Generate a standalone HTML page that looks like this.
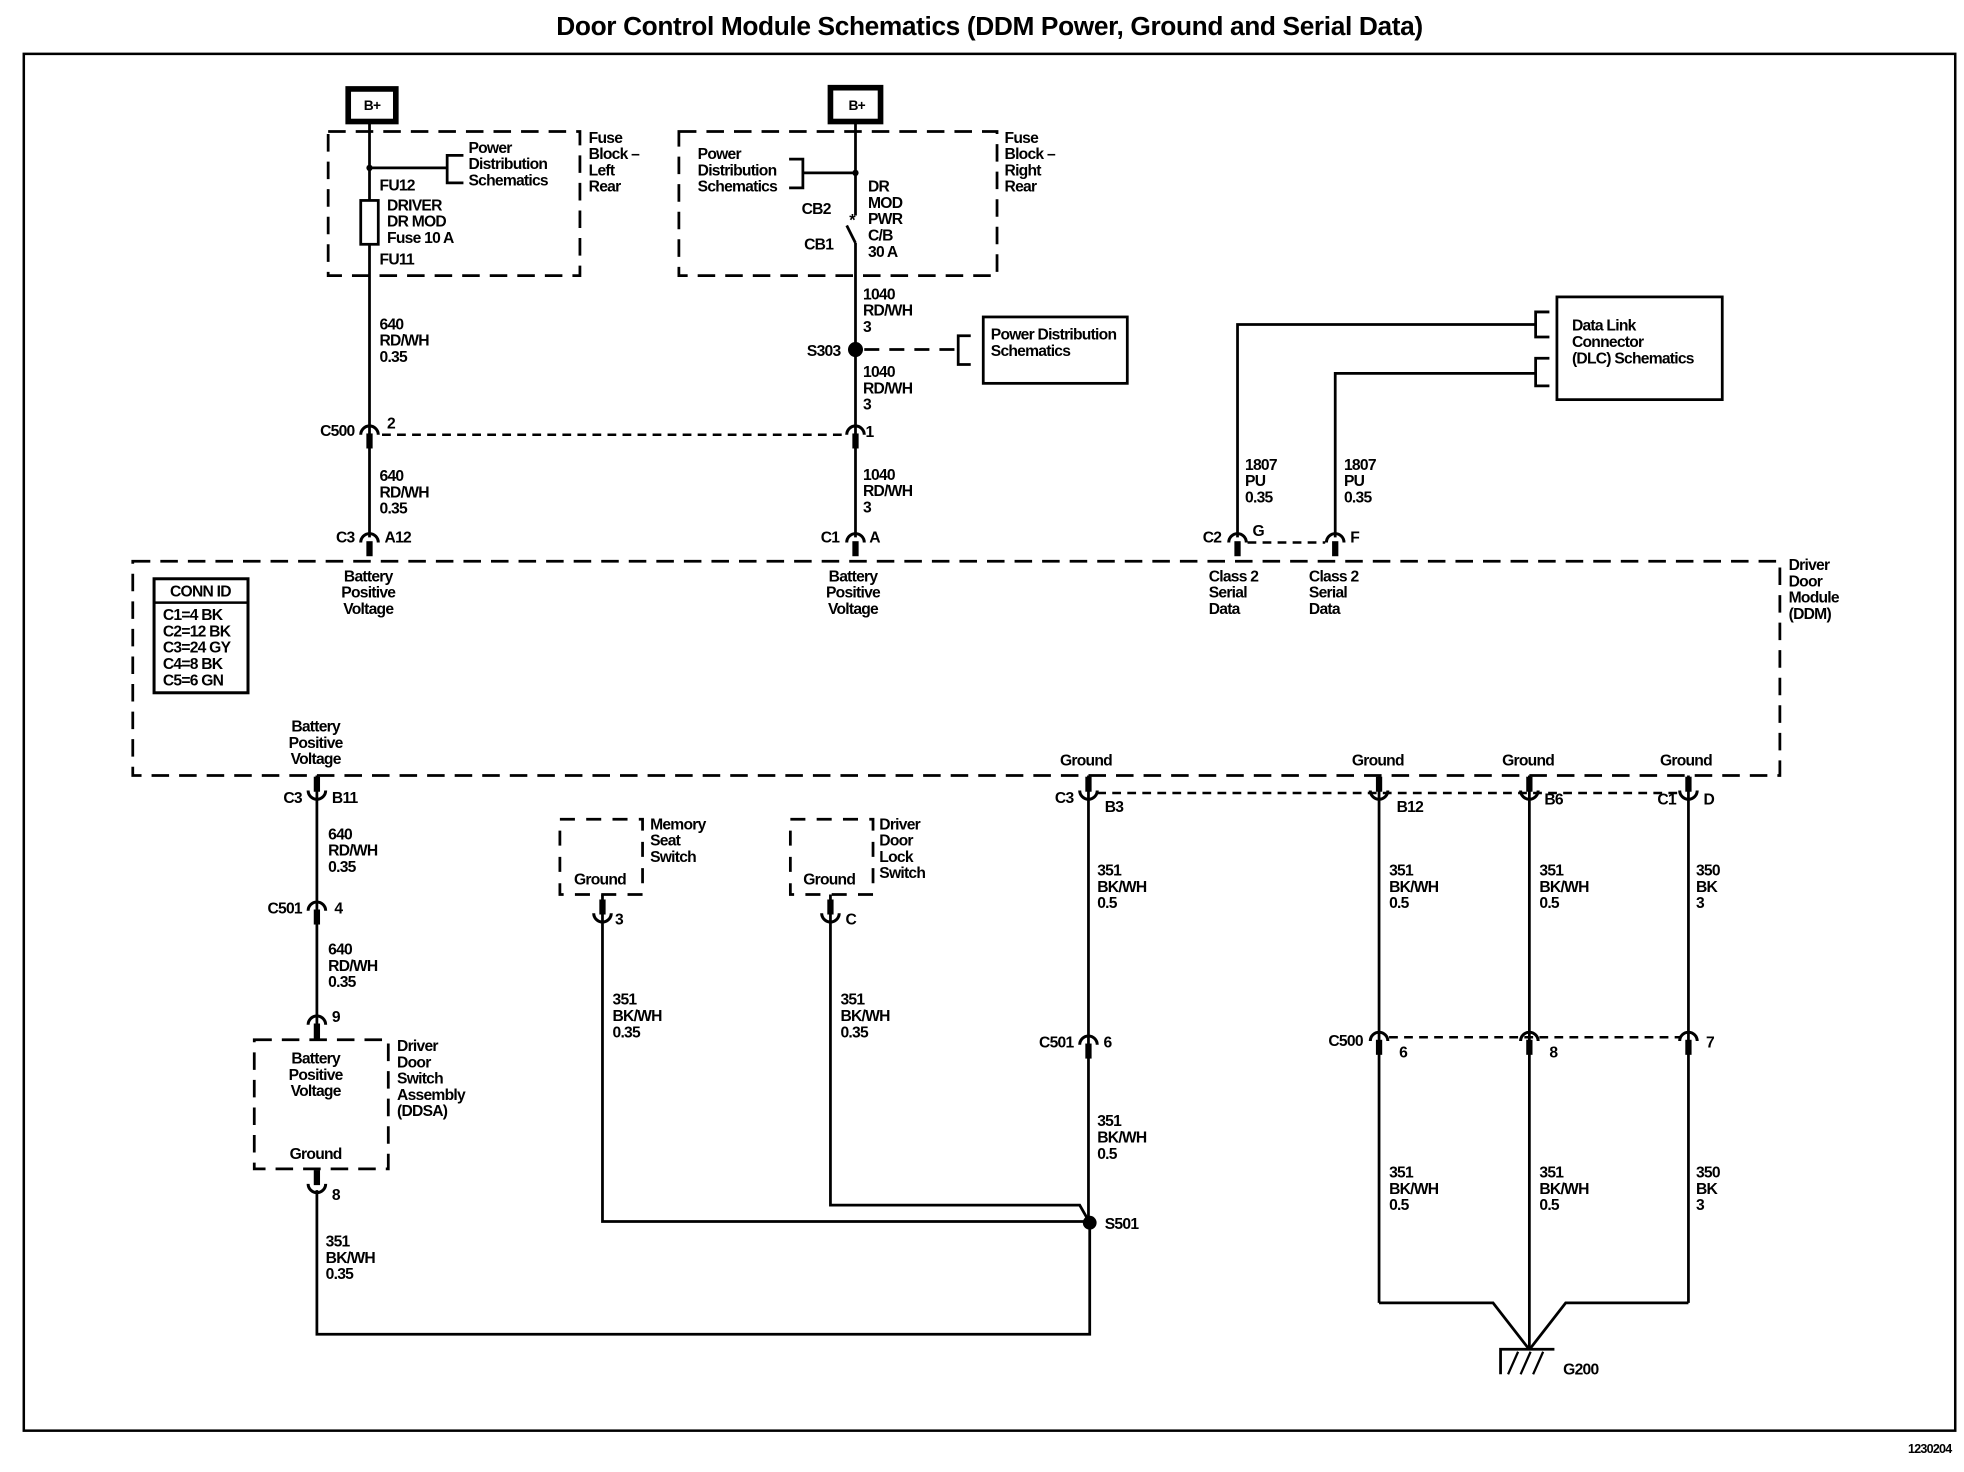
<!DOCTYPE html>
<html><head><meta charset="utf-8"><style>
html,body{margin:0;padding:0;background:#fff;}
svg{display:block}
text{font-family:"Liberation Sans",sans-serif;font-weight:bold;font-size:12.5px;fill:#000;letter-spacing:-0.6px}
.w{stroke:#000;stroke-width:2.2;fill:none}
.d{stroke:#000;stroke-width:2.2;fill:none;stroke-dasharray:14 8}
.ds{stroke:#000;stroke-width:2;fill:none;stroke-dasharray:7 5}
.a{stroke:#000;stroke-width:2.4;fill:none}
</style></head><body>
<svg width="1964" height="1472" viewBox="0 0 1568 1175" preserveAspectRatio="none" xmlns="http://www.w3.org/2000/svg">
<defs>
<g id="cd"><path class="a" d="M-7 5 A7 7 0 0 1 7 5"/><rect x="-2.5" y="4" width="5" height="12"/></g>
<g id="cu"><path class="a" d="M-7 -5 A7 7 0 0 0 7 -5"/><rect x="-2.5" y="-16" width="5" height="12"/></g>
</defs>
<text x="790" y="28" text-anchor="middle" style="font-size:21px;letter-spacing:-0.3px">Door Control Module Schematics (DDM Power, Ground and Serial Data)</text>
<rect x="19" y="43" width="1542" height="1099" fill="none" stroke="#000" stroke-width="2"/>
<text x="1558" y="1160" text-anchor="end" style="font-size:10px">1230204</text>

<!-- left fuse block -->
<rect x="278" y="71" width="38" height="26" fill="none" stroke="#000" stroke-width="4.5"/>
<text x="297" y="88" text-anchor="middle" style="font-size:11px">B+</text>
<rect x="262" y="105" width="201" height="115" class="d"/>
<line class="w" x1="295" y1="97" x2="295" y2="160"/>
<line class="w" x1="295" y1="195" x2="295" y2="429"/>
<circle cx="295" cy="134" r="2.5"/>
<line class="w" x1="295" y1="134" x2="357" y2="134"/>
<path class="w" d="M370 124 H357 V146 H370"/>
<text x="374" y="122">Power</text><text x="374" y="135">Distribution</text><text x="374" y="148">Schematics</text>
<text x="470" y="114">Fuse</text><text x="470" y="127">Block –</text><text x="470" y="140">Left</text><text x="470" y="153">Rear</text>
<text x="303" y="152">FU12</text>
<rect x="288" y="160" width="14" height="35" fill="none" stroke="#000" stroke-width="2.2"/>
<text x="309" y="168">DRIVER</text><text x="309" y="181">DR MOD</text><text x="309" y="194">Fuse 10 A</text>
<text x="303" y="211">FU11</text>
<text x="303" y="263">640</text><text x="303" y="276">RD/WH</text><text x="303" y="289">0.35</text>
<use href="#cd" x="295" y="342"/>
<text x="283" y="348" text-anchor="end">C500</text><text x="309" y="342">2</text>
<line class="ds" x1="305" y1="347" x2="675" y2="347"/>
<text x="303" y="384">640</text><text x="303" y="397">RD/WH</text><text x="303" y="410">0.35</text>
<use href="#cd" x="295" y="428"/>
<text x="283" y="433" text-anchor="end">C3</text><text x="307" y="433">A12</text>

<!-- right fuse block -->
<rect x="663" y="70" width="40" height="27" fill="none" stroke="#000" stroke-width="4.5"/>
<text x="684" y="88" text-anchor="middle" style="font-size:11px">B+</text>
<rect x="542" y="105" width="254" height="115" class="d"/>
<line class="w" x1="683" y1="97" x2="683" y2="172"/>
<line class="w" x1="676" y1="180" x2="683" y2="194"/>
<line class="w" x1="683" y1="194" x2="683" y2="429"/>
<text x="678" y="180" style="font-size:13px">*</text>
<circle cx="683" cy="138" r="2.5"/>
<line class="w" x1="641" y1="138" x2="683" y2="138"/>
<path class="w" d="M630 127 H641 V150 H630"/>
<text x="557" y="127">Power</text><text x="557" y="140">Distribution</text><text x="557" y="153">Schematics</text>
<text x="640" y="171">CB2</text><text x="642" y="199">CB1</text>
<text x="693" y="153">DR</text><text x="693" y="166">MOD</text><text x="693" y="179">PWR</text><text x="693" y="192">C/B</text><text x="693" y="205">30 A</text>
<text x="802" y="114">Fuse</text><text x="802" y="127">Block –</text><text x="802" y="140">Right</text><text x="802" y="153">Rear</text>
<text x="689" y="239">1040</text><text x="689" y="252">RD/WH</text><text x="689" y="265">3</text>
<circle cx="683" cy="279" r="6"/>
<text x="671" y="284" text-anchor="end">S303</text>
<line class="d" x1="690" y1="279" x2="765" y2="279" style="stroke-dasharray:12 8"/>
<path class="w" d="M775 268 H765 V291 H775"/>
<rect x="785" y="253" width="115" height="53" fill="none" stroke="#000" stroke-width="2.2"/>
<text x="791" y="271">Power Distribution</text><text x="791" y="284">Schematics</text>
<text x="689" y="301">1040</text><text x="689" y="314">RD/WH</text><text x="689" y="327">3</text>
<use href="#cd" x="683" y="342"/>
<text x="691" y="349">1</text>
<text x="689" y="383">1040</text><text x="689" y="396">RD/WH</text><text x="689" y="409">3</text>
<use href="#cd" x="683" y="428"/>
<text x="670" y="433" text-anchor="end">C1</text><text x="694" y="433">A</text>

<!-- DLC -->
<rect x="1243" y="237" width="132" height="82" fill="none" stroke="#000" stroke-width="2.2"/>
<text x="1255" y="264">Data Link</text><text x="1255" y="277">Connector</text><text x="1255" y="290">(DLC) Schematics</text>
<path class="w" d="M1237 249 H1226 V269 H1237"/>
<path class="w" d="M1237 286 H1226 V308 H1237"/>
<path class="w" d="M988 429 V259 H1226"/>
<path class="w" d="M1066 429 V298 H1226"/>
<text x="994" y="375">1807</text><text x="994" y="388">PU</text><text x="994" y="401">0.35</text>
<text x="1073" y="375">1807</text><text x="1073" y="388">PU</text><text x="1073" y="401">0.35</text>
<use href="#cd" x="988" y="428"/><use href="#cd" x="1066" y="428"/>
<text x="975" y="433" text-anchor="end">C2</text><text x="1000" y="428">G</text><text x="1078" y="433">F</text>
<line class="ds" x1="996" y1="433" x2="1058" y2="433"/>

<!-- DDM -->
<rect x="106" y="448" width="1315" height="171" class="d"/>
<text x="294" y="464" text-anchor="middle">Battery</text><text x="294" y="477" text-anchor="middle">Positive</text><text x="294" y="490" text-anchor="middle">Voltage</text>
<text x="681" y="464" text-anchor="middle">Battery</text><text x="681" y="477" text-anchor="middle">Positive</text><text x="681" y="490" text-anchor="middle">Voltage</text>
<text x="965" y="464">Class 2</text><text x="965" y="477">Serial</text><text x="965" y="490">Data</text>
<text x="1045" y="464">Class 2</text><text x="1045" y="477">Serial</text><text x="1045" y="490">Data</text>
<text x="1428" y="455">Driver</text><text x="1428" y="468">Door</text><text x="1428" y="481">Module</text><text x="1428" y="494">(DDM)</text>
<rect x="123" y="462" width="75" height="91" fill="none" stroke="#000" stroke-width="2.4"/>
<line x1="123" y1="481" x2="198" y2="481" stroke="#000" stroke-width="2"/>
<text x="160" y="476" text-anchor="middle">CONN ID</text>
<text x="130" y="495">C1=4 BK</text><text x="130" y="508">C2=12 BK</text><text x="130" y="521">C3=24 GY</text><text x="130" y="534">C4=8 BK</text><text x="130" y="547">C5=6 GN</text>
<text x="252" y="584" text-anchor="middle">Battery</text><text x="252" y="597" text-anchor="middle">Positive</text><text x="252" y="610" text-anchor="middle">Voltage</text>
<text x="867" y="611" text-anchor="middle">Ground</text><text x="1100" y="611" text-anchor="middle">Ground</text><text x="1220" y="611" text-anchor="middle">Ground</text><text x="1346" y="611" text-anchor="middle">Ground</text>

<!-- left bottom -->
<line class="w" x1="253" y1="619" x2="253" y2="830"/>
<use href="#cu" x="253" y="636"/>
<text x="241" y="641" text-anchor="end">C3</text><text x="265" y="641">B11</text>
<text x="262" y="670">640</text><text x="262" y="683">RD/WH</text><text x="262" y="696">0.35</text>
<use href="#cd" x="253" y="722"/>
<text x="241" y="729" text-anchor="end">C501</text><text x="267" y="729">4</text>
<text x="262" y="762">640</text><text x="262" y="775">RD/WH</text><text x="262" y="788">0.35</text>
<use href="#cd" x="253" y="813"/>
<text x="265" y="816">9</text>
<rect x="203" y="830" width="107" height="103" class="d"/>
<text x="252" y="849" text-anchor="middle">Battery</text><text x="252" y="862" text-anchor="middle">Positive</text><text x="252" y="875" text-anchor="middle">Voltage</text>
<text x="252" y="925" text-anchor="middle">Ground</text>
<text x="317" y="839">Driver</text><text x="317" y="852">Door</text><text x="317" y="865">Switch</text><text x="317" y="878">Assembly</text><text x="317" y="891">(DDSA)</text>
<use href="#cu" x="253" y="950"/>
<text x="265" y="958">8</text>
<path class="w" d="M253 950 V1065 H870 V976"/>
<text x="260" y="995">351</text><text x="260" y="1008">BK/WH</text><text x="260" y="1021">0.35</text>

<!-- memory seat / lock -->
<rect x="447" y="654" width="66" height="60" class="d" style="stroke-dasharray:12 9"/>
<text x="479" y="706" text-anchor="middle">Ground</text>
<text x="519" y="662">Memory</text><text x="519" y="675">Seat</text><text x="519" y="688">Switch</text>
<use href="#cu" x="481" y="734"/>
<text x="491" y="738">3</text>
<path class="w" d="M481 714 V975 H870"/>
<text x="489" y="802">351</text><text x="489" y="815">BK/WH</text><text x="489" y="828">0.35</text>
<rect x="631" y="654" width="66" height="60" class="d" style="stroke-dasharray:12 9"/>
<text x="662" y="706" text-anchor="middle">Ground</text>
<text x="702" y="662">Driver</text><text x="702" y="675">Door</text><text x="702" y="688">Lock</text><text x="702" y="701">Switch</text>
<use href="#cu" x="663" y="734"/>
<text x="675" y="738">C</text>
<path class="w" d="M663 714 V962 H862 L870 976"/>
<text x="671" y="802">351</text><text x="671" y="815">BK/WH</text><text x="671" y="828">0.35</text>
<circle cx="870" cy="976" r="5.5"/>
<text x="882" y="981">S501</text>

<!-- ground columns -->
<line class="w" x1="869" y1="619" x2="869" y2="976"/>
<use href="#cu" x="869" y="636"/>
<text x="857" y="641" text-anchor="end">C3</text><text x="882" y="648">B3</text>
<line class="ds" x1="876" y1="633" x2="1342" y2="633"/>
<text x="876" y="699">351</text><text x="876" y="712">BK/WH</text><text x="876" y="725">0.5</text>
<use href="#cd" x="869" y="829"/>
<text x="857" y="836" text-anchor="end">C501</text><text x="881" y="836">6</text>
<text x="876" y="899">351</text><text x="876" y="912">BK/WH</text><text x="876" y="925">0.5</text>

<line class="w" x1="1101" y1="619" x2="1101" y2="1040"/>
<line class="w" x1="1221" y1="619" x2="1221" y2="1076"/>
<line class="w" x1="1348" y1="619" x2="1348" y2="1040"/>
<use href="#cu" x="1101" y="636"/><use href="#cu" x="1221" y="636"/><use href="#cu" x="1348" y="636"/>
<text x="1115" y="648">B12</text><text x="1233" y="642">B6</text>
<text x="1338" y="642" text-anchor="end">C1</text><text x="1360" y="642">D</text>
<text x="1109" y="699">351</text><text x="1109" y="712">BK/WH</text><text x="1109" y="725">0.5</text>
<text x="1229" y="699">351</text><text x="1229" y="712">BK/WH</text><text x="1229" y="725">0.5</text>
<text x="1354" y="699">350</text><text x="1354" y="712">BK</text><text x="1354" y="725">3</text>
<use href="#cd" x="1101" y="826"/><use href="#cd" x="1221" y="826"/><use href="#cd" x="1348" y="826"/>
<text x="1088" y="835" text-anchor="end">C500</text>
<text x="1117" y="844">6</text><text x="1237" y="844">8</text><text x="1362" y="836">7</text>
<line class="ds" x1="1109" y1="828" x2="1341" y2="828"/>
<text x="1109" y="940">351</text><text x="1109" y="953">BK/WH</text><text x="1109" y="966">0.5</text>
<text x="1229" y="940">351</text><text x="1229" y="953">BK/WH</text><text x="1229" y="966">0.5</text>
<text x="1354" y="940">350</text><text x="1354" y="953">BK</text><text x="1354" y="966">3</text>
<path class="w" d="M1101 1040 H1192 L1220 1076"/>
<path class="w" d="M1348 1040 H1250 L1222 1076"/>
<path class="w" d="M1198 1097 V1077 H1241"/>
<path d="M1204 1097 L1212 1079 M1214 1097 L1222 1079 M1224 1097 L1232 1079" stroke="#000" stroke-width="1.8"/>
<text x="1248" y="1097">G200</text>
</svg>
</body></html>
